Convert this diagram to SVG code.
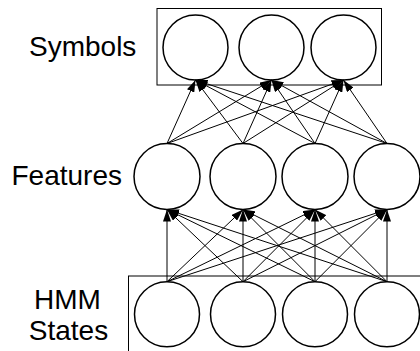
<svg xmlns="http://www.w3.org/2000/svg" width="420" height="351" viewBox="0 0 420 351">
<style>
.box{fill:none;stroke:#000;stroke-width:1}
.node{fill:#fff;stroke:#000;stroke-width:1.5}
.lbl{font-family:"Liberation Sans",Arial,sans-serif;font-size:28px;fill:#000}
.edge{stroke:#000;stroke-width:1;fill:none;marker-end:url(#ah)}
</style>
<defs>
<marker id="ah" markerUnits="userSpaceOnUse" markerWidth="12" markerHeight="8" refX="12" refY="4" orient="auto">
<path d="M0,0 L12,4 L0,8 z" fill="#000"/>
</marker>
</defs>
<rect class="box" x="157" y="8.5" width="224.5" height="76.5"/>
<rect class="box" x="128.5" y="276" width="300" height="100"/>
<text class="lbl" x="29" y="56">Symbols</text>
<text class="lbl" x="11.5" y="185">Features</text>
<text class="lbl" x="67.5" y="309" text-anchor="middle">HMM</text>
<text class="lbl" x="68.5" y="340" text-anchor="middle">States</text>
<g id="s1"><circle class="node" cx="195.5" cy="47.5" r="32.5"/></g>
<g id="s2"><circle class="node" cx="271.5" cy="47.5" r="32.5"/></g>
<g id="s3"><circle class="node" cx="343.5" cy="47.5" r="32.5"/></g>
<g id="f1"><circle class="node" cx="167" cy="176.5" r="33"/></g>
<g id="f2"><circle class="node" cx="243" cy="176.5" r="33"/></g>
<g id="f3"><circle class="node" cx="315" cy="176.5" r="33"/></g>
<g id="f4"><circle class="node" cx="387" cy="176.5" r="33"/></g>
<g id="h1"><circle class="node" cx="167" cy="314.2" r="32.5"/></g>
<g id="h2"><circle class="node" cx="243" cy="314.2" r="32.5"/></g>
<g id="h3"><circle class="node" cx="315" cy="314.2" r="32.5"/></g>
<g id="h4"><circle class="node" cx="387" cy="314.2" r="32.5"/></g>
<g id="connectors">
<line class="edge" x1="167" y1="143.5" x2="195.5" y2="80"/>
<line class="edge" x1="167" y1="143.5" x2="271.5" y2="80"/>
<line class="edge" x1="167" y1="143.5" x2="343.5" y2="80"/>
<line class="edge" x1="243" y1="143.5" x2="195.5" y2="80"/>
<line class="edge" x1="243" y1="143.5" x2="271.5" y2="80"/>
<line class="edge" x1="243" y1="143.5" x2="343.5" y2="80"/>
<line class="edge" x1="315" y1="143.5" x2="195.5" y2="80"/>
<line class="edge" x1="315" y1="143.5" x2="271.5" y2="80"/>
<line class="edge" x1="315" y1="143.5" x2="343.5" y2="80"/>
<line class="edge" x1="387" y1="143.5" x2="195.5" y2="80"/>
<line class="edge" x1="387" y1="143.5" x2="271.5" y2="80"/>
<line class="edge" x1="387" y1="143.5" x2="343.5" y2="80"/>
<line class="edge" x1="167" y1="281.7" x2="167" y2="209.5"/>
<line class="edge" x1="167" y1="281.7" x2="243" y2="209.5"/>
<line class="edge" x1="167" y1="281.7" x2="315" y2="209.5"/>
<line class="edge" x1="167" y1="281.7" x2="387" y2="209.5"/>
<line class="edge" x1="243" y1="281.7" x2="167" y2="209.5"/>
<line class="edge" x1="243" y1="281.7" x2="243" y2="209.5"/>
<line class="edge" x1="243" y1="281.7" x2="315" y2="209.5"/>
<line class="edge" x1="243" y1="281.7" x2="387" y2="209.5"/>
<line class="edge" x1="315" y1="281.7" x2="167" y2="209.5"/>
<line class="edge" x1="315" y1="281.7" x2="243" y2="209.5"/>
<line class="edge" x1="315" y1="281.7" x2="315" y2="209.5"/>
<line class="edge" x1="315" y1="281.7" x2="387" y2="209.5"/>
<line class="edge" x1="387" y1="281.7" x2="167" y2="209.5"/>
<line class="edge" x1="387" y1="281.7" x2="243" y2="209.5"/>
<line class="edge" x1="387" y1="281.7" x2="315" y2="209.5"/>
<line class="edge" x1="387" y1="281.7" x2="387" y2="209.5"/>
</g>
</svg>
